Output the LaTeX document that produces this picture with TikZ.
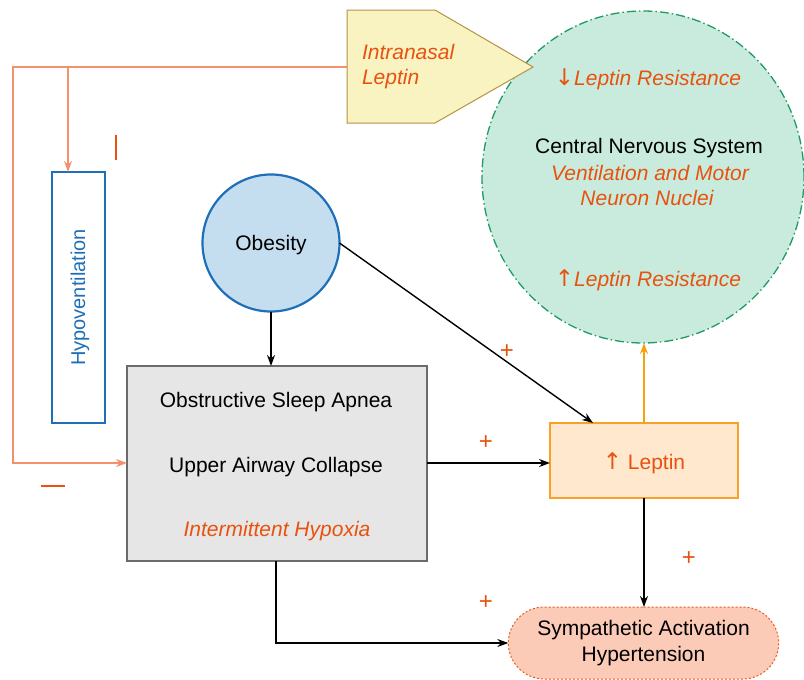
\documentclass[tikz,border=0pt]{standalone}
\usepackage{fontspec}
\setmainfont{Liberation Sans}
\newfontfamily\arrfont{DejaVu Sans}
\usetikzlibrary{arrows.meta,shapes.geometric,shapes.misc}
\definecolor{txtred}{HTML}{E8520F}
\definecolor{fbline}{HTML}{F3916C}
\definecolor{cnsfill}{HTML}{C8EBDD}
\definecolor{cnsdraw}{HTML}{1F9A63}
\definecolor{obfill}{HTML}{C5DEEF}
\definecolor{obdraw}{HTML}{1F6FB8}
\definecolor{osafill}{HTML}{E6E6E6}
\definecolor{osadraw}{HTML}{6B6B6B}
\definecolor{lepfill}{HTML}{FFE8CE}
\definecolor{lepdraw}{HTML}{F7A12A}
\definecolor{symfill}{HTML}{FBCBB7}
\definecolor{symdraw}{HTML}{EE5A1E}
\definecolor{penfill}{HTML}{F9F2C1}
\definecolor{pendraw}{HTML}{B39442}
\definecolor{uparrow}{HTML}{F5A20F}
\newcommand{\upar}{{\arrfont\fontsize{23}{25}\selectfont ↑}}
\newcommand{\downar}{{\arrfont\fontsize{23}{25}\selectfont ↓}}
\tikzset{
  lbl/.style={inner sep=0pt, outer sep=0pt, anchor=center},
  red/.style={text=txtred, font=\fontsize{21}{25}\selectfont\itshape},
  conn/.style={draw=black, line width=1.4pt, -{Stealth[length=11pt,width=8pt]}},
  fb/.style={draw=fbline, line width=1.6pt},
  fbarr/.style={fb, -{Stealth[length=11pt,width=8pt]}},
  plus/.style={text=txtred, font=\fontsize{24}{26}\selectfont, inner sep=0pt},
}
\begin{document}
\begin{tikzpicture}[x=1pt,y=-1pt, font=\fontsize{21}{25}\selectfont]
\useasboundingbox (0,0) rectangle (804,680);
% CNS circle
\node[ellipse, minimum width=322, minimum height=332, fill=cnsfill, draw=cnsdraw, line width=1.3pt, dash pattern=on 9pt off 3pt on 1.5pt off 3pt, outer sep=0pt] (cns) at (643,177) {};
\node[lbl, red] (cns1) at (648,79) {\downar Leptin Resistance};
\node[lbl] (cns2) at (649,148) {Central Nervous System};
\node[lbl, red] (cns3) at (650,173) {Ventilation and Motor};
\node[lbl, red] (cns4) at (647,198) {Neuron Nuclei};
\node[lbl, red] (cns5) at (648,280) {\upar Leptin Resistance};
% Intranasal pentagon
\draw[fill=penfill, draw=pendraw, line width=1pt] (347,10) -- (435,10) -- (533,67) -- (435,123) -- (347,123) -- cycle;
\coordinate (pen) at (347,67);
\node[lbl, red, anchor=west, align=left] (inl) at (362,67) {Intranasal\\Leptin};
% Hypoventilation
\node[draw=obdraw, line width=1.3pt, fill=white, minimum width=53, minimum height=251, outer sep=0pt] (hyp) at (78.5,297.5) {};
\node[lbl, rotate=90, text=obdraw, font=\fontsize{20}{24}\selectfont] at (80,297.5) {Hypoventilation};
% Obesity
\node[circle, minimum size=137, fill=obfill, draw=obdraw, line width=2.2pt, outer sep=0pt] (ob) at (271,243) {};
\node[lbl] at (271,245) {Obesity};
% OSA box
\node[draw=osadraw, line width=1.3pt, fill=osafill, minimum width=300, minimum height=195, outer sep=0pt] (osa) at (277,463.5) {};
\node[lbl] at (276,402) {Obstructive Sleep Apnea};
\node[lbl] at (276,467) {Upper Airway Collapse};
\node[lbl, red] at (277,531) {Intermittent Hypoxia};
% Leptin box
\node[draw=lepdraw, line width=1.3pt, fill=lepfill, minimum width=188, minimum height=75, outer sep=0pt] (lep) at (644,460.5) {};
\node[lbl, text=txtred] at (644,463) {\upar\ Leptin};
% Sympathetic
\node[rounded rectangle, draw=symdraw, dash pattern=on 2pt off 2pt, line width=1pt, fill=symfill, minimum width=277, minimum height=72, outer sep=0pt, align=center, font=\fontsize{21}{26}\selectfont] (sym) at (643.5,643) {Sympathetic Activation\\Hypertension};
% connectors
\draw[conn] (ob.south) -- (ob.south |- osa.north);
\draw[conn] (osa.east |- 0,463) -- (lep.west |- 0,463);
\draw[conn] (ob.east) -- (593,423);
\draw[draw=uparrow, line width=1.5pt, -{Stealth[length=11pt,width=8pt]}] (lep.north) -- (lep.north |- cns.south);
\draw[conn] (lep.south) -- (lep.south |- sym.north);
\draw[conn] (osa.south -| 276,0) -- (276,643) -- (sym.west);
% feedback
\draw[fbarr] (pen) -- (13,67) -- (13,463) -- (osa.west |- 0,463);
\draw[fbarr] (68,67) -- (68,172);
% signs
\draw[draw=txtred, line width=1.4pt] (116,135) -- (116,160);
\draw[draw=txtred, line width=1.4pt] (41,486) -- (65,486);
\node[plus] at (486,443) {+};
\node[plus] at (507,352) {+};
\node[plus] at (689,559) {+};
\node[plus] at (486,603) {+};
\end{tikzpicture}
\end{document}
